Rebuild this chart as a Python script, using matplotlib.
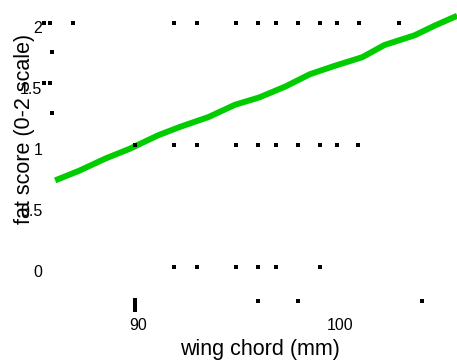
import matplotlib

matplotlib.use("Agg")
import matplotlib.pyplot as plt
from matplotlib.transforms import ScaledTranslation

plt.rcParams["font.family"] = ["Liberation Sans", "DejaVu Sans"]

# observed birds: wing chord (mm) vs fat score
wing_2 = [85.35, 85.65, 86.8, 91.8, 92.9, 94.85, 95.95, 96.85, 97.9, 99.0, 99.85, 100.95, 102.9]
fat_2 = [2.0] * len(wing_2)
wing_mid = [85.72, 85.35, 85.65, 85.72]
fat_mid = [1.76, 1.51, 1.51, 1.26]
wing_1 = [89.85, 91.8, 92.9, 94.85, 95.95, 96.85, 97.9, 99.0, 99.85, 100.9]
fat_1 = [1.0] * len(wing_1)
wing_0 = [91.8, 92.9, 94.85, 95.95, 96.85, 99.0]
fat_0 = [0.0] * len(wing_0)
wing_low = [95.95, 97.9, 104.05]
fat_low = [-0.28, -0.28, -0.28]

# fitted curve
fit_wing = [85.9, 87.1, 88.4, 89.6, 91.0, 92.1, 93.5, 94.8, 96.0, 97.3, 98.5,
            99.75, 101.1, 102.2, 103.7, 104.7, 105.8]
fit_fat = [0.71, 0.79, 0.89, 0.97, 1.08, 1.15, 1.23, 1.33, 1.39, 1.48, 1.58,
           1.65, 1.72, 1.82, 1.90, 1.98, 2.06]

xticks = [90, 100]
yticks = [0, 0.5, 1, 1.5, 2]
yticklabels = ["0", "0.5", "1", "1.5", "2"]
# the few tick marks that actually show
xmarks = [89.85]
ymarks = [1.5, 2]

fig = plt.figure(figsize=(4.57, 3.6), dpi=100)
ax = fig.add_axes([48 / 457, 48 / 360, 409 / 457, 312 / 360])

ax.plot(fit_wing, fit_fat, color="#00cc00", lw=4.3, solid_capstyle="butt", zorder=2)

for xs, ys in [(wing_2, fat_2), (wing_mid, fat_mid), (wing_1, fat_1),
               (wing_0, fat_0), (wing_low, fat_low)]:
    ax.plot(xs, ys, "s", color="black", ms=3.4, mew=0, clip_on=False, zorder=3)

ax.set_xlim(85.545, 105.79)
ax.set_ylim(-0.369, 2.189)
for s in ax.spines.values():
    s.set_visible(False)

ax.set_xticks(xticks)
ax.set_yticks(yticks)
ax.set_yticklabels(yticklabels)
ax.set_xticks(xmarks, minor=True)
ax.set_yticks(ymarks, minor=True)
ax.tick_params(axis="x", which="major", length=0, pad=4, labelsize=11.5)
ax.tick_params(axis="y", which="major", length=0, pad=4, labelsize=11.5)
ax.tick_params(axis="x", which="minor", direction="in", length=10, width=2.9)
ax.tick_params(axis="y", which="minor", direction="inout", length=9.5, width=2.6)

shift = ScaledTranslation(0, -4 / 100, fig.dpi_scale_trans)
for lab in ax.get_yticklabels():
    lab.set_transform(lab.get_transform() + shift)

ax.set_xlabel("wing chord (mm)", fontsize=15.5)
ax.xaxis.set_label_coords(0.518, -0.085)
ax.set_ylabel("fat score (0-2 scale)", fontsize=15.5)
ax.yaxis.set_label_coords(-0.032, 0.587)

fig.savefig("out.png", dpi=100)
